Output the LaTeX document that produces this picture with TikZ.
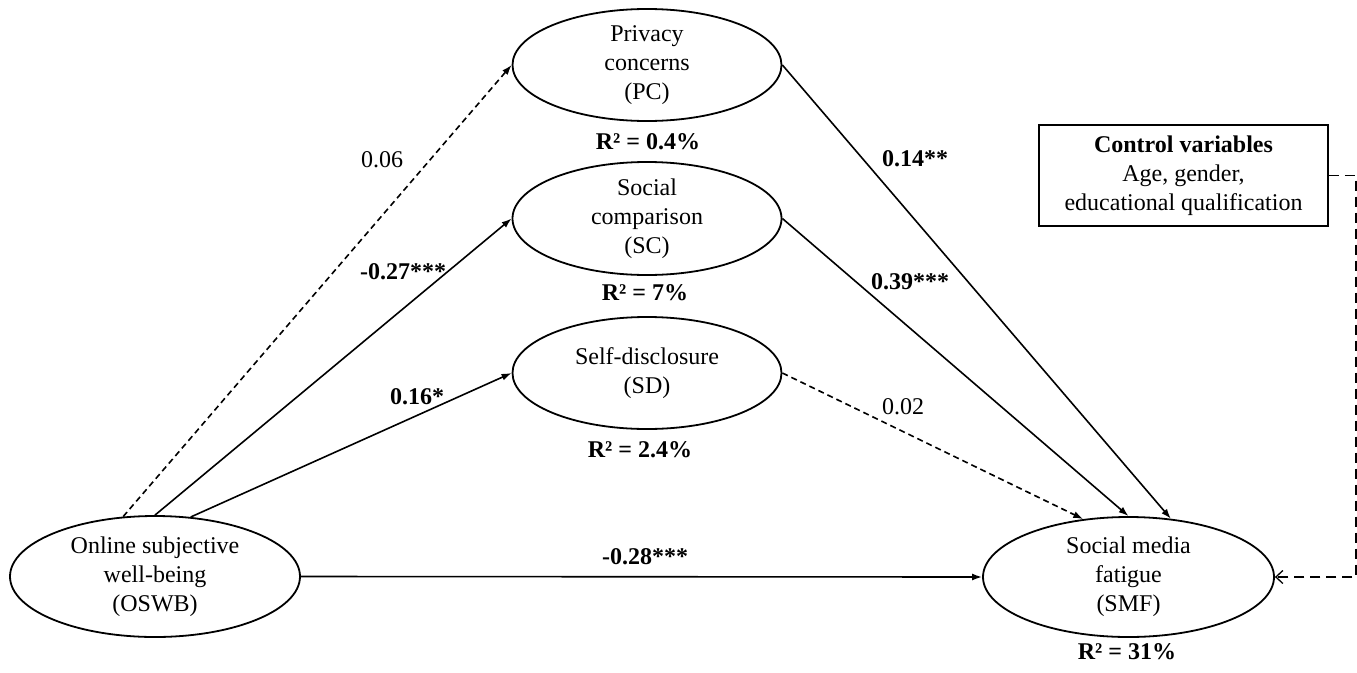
\documentclass[tikz,border=0pt]{standalone}
\usepackage{fontspec}
\setmainfont{Liberation Serif}
\usetikzlibrary{shapes.geometric,arrows.meta}
\begin{document}
\begin{tikzpicture}[x=1pt,y=-1pt,
  every node/.style={font=\fontsize{24}{29}\selectfont},
  lat/.style={draw, ellipse, line width=1.8pt, inner sep=0pt, align=center,
    minimum width=269pt, minimum height=112pt},
  ctrlbox/.style={draw, rectangle, line width=1.8pt, inner sep=0pt, align=center,
    minimum width=289pt, minimum height=101pt},
  coef/.style={inner sep=1pt},
  coefb/.style={inner sep=1pt, font=\fontsize{24}{29}\selectfont\bfseries},
  arr/.style={line width=1.6pt, -{Latex[length=10pt,width=7pt]}},
  dsh/.style={dash pattern=on 6pt off 4pt},
  ctrl/.style={line width=1.6pt, dash pattern=on 10pt off 6pt,
    -{Straight Barb[length=7pt,width=13pt,line width=1.3pt]}}
]
\useasboundingbox (0,0) rectangle (1357,672);

% latent variables
\node[lat] (pc) at (647,65) {Privacy\\concerns\\(PC)};
\node[lat, minimum height=113pt] (sc) at (647,218.5) {Social\\comparison\\(SC)};
\node[lat] (sd) at (647,373) {Self-disclosure\\(SD)};
\node[lat, minimum width=290pt, minimum height=121pt] (oswb) at (155,576.5) {Online subjective\\well-being\\(OSWB)};
\node[lat, minimum width=291pt, minimum height=120pt] (smf) at (1128.5,577) {Social media\\fatigue\\(SMF)};

% control variables
\node[ctrlbox] (cv) at (1183.5,175.5) {\textbf{Control variables}\\Age, gender,\\educational qualification};

% R squared
\node[coefb] (r1) at (648,142) {R² = 0.4\%};
\node[coefb] (r2) at (645,293) {R² = 7\%};
\node[coefb] (r3) at (640,450) {R² = 2.4\%};
\node[coefb] (r4) at (1127,652) {R² = 31\%};

% paths
\draw[arr, dsh] (oswb.118) -- (pc.west);
\draw[arr] (oswb.north) -- (sc.west);
\draw[arr] (oswb.59) -- (sd.west);
\draw[arr] (oswb.east) -- (smf.west);
\draw[arr] (pc.east) -- (smf.54);
\draw[arr] (sc.east) -- (smf.north);
\draw[arr, dsh] (sd.east) -- (smf.128);
\draw[ctrl] (cv.east) -- ++(27,0) |- (smf.east);

% coefficients
\node[coef] (l1) at (382,160) {0.06};
\node[coefb] (l2) at (403,272) {-0.27***};
\node[coefb] (l3) at (417,397) {0.16*};
\node[coefb] (l4) at (645,557) {-0.28***};
\node[coefb] (l5) at (915,159) {0.14**};
\node[coefb] (l6) at (910,282) {0.39***};
\node[coef] (l7) at (903,407) {0.02};
\end{tikzpicture}
\end{document}
